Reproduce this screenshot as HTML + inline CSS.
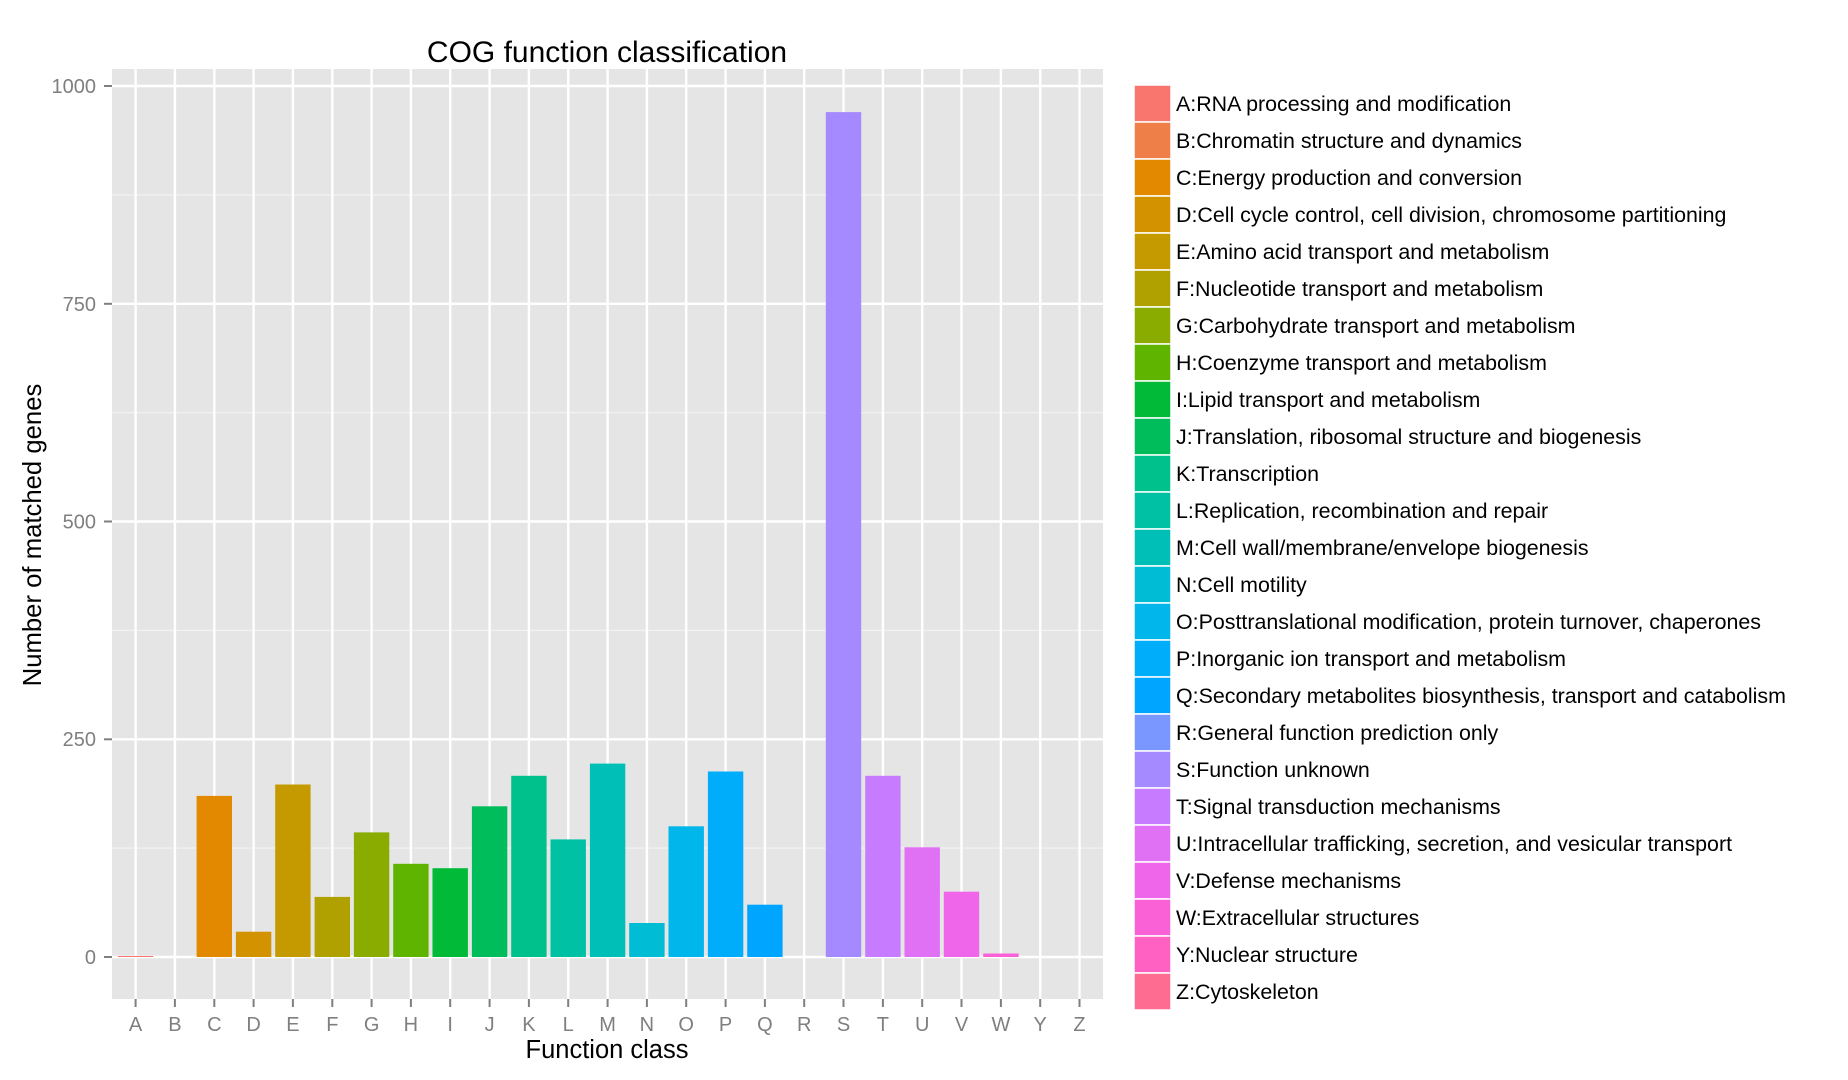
<!DOCTYPE html>
<html><head><meta charset="utf-8"><style>body{margin:0;background:#fff}svg{display:block}text{font-family:"Liberation Sans",Arial,sans-serif}</style></head><body>
<svg width="1848" height="1080" viewBox="0 0 1848 1080" xmlns="http://www.w3.org/2000/svg">
<rect x="0" y="0" width="1848" height="1080" fill="#fff"/>
<rect x="112" y="69" width="991" height="930" fill="#e5e5e5"/>
<g stroke="#f2f2f2" stroke-width="1.2">
<line x1="112" x2="1103" y1="848.1" y2="848.1"/><line x1="112" x2="1103" y1="630.4" y2="630.4"/><line x1="112" x2="1103" y1="412.6" y2="412.6"/><line x1="112" x2="1103" y1="194.9" y2="194.9"/>
</g>
<g stroke="#fff" stroke-width="2.4">
<line x1="112" x2="1103" y1="957" y2="957"/><line x1="112" x2="1103" y1="739.3" y2="739.3"/><line x1="112" x2="1103" y1="521.5" y2="521.5"/><line x1="112" x2="1103" y1="303.8" y2="303.8"/><line x1="112" x2="1103" y1="86" y2="86"/>
<line x1="135.6" x2="135.6" y1="69" y2="999"/><line x1="174.9" x2="174.9" y1="69" y2="999"/><line x1="214.3" x2="214.3" y1="69" y2="999"/><line x1="253.6" x2="253.6" y1="69" y2="999"/><line x1="292.9" x2="292.9" y1="69" y2="999"/><line x1="332.3" x2="332.3" y1="69" y2="999"/><line x1="371.6" x2="371.6" y1="69" y2="999"/><line x1="410.9" x2="410.9" y1="69" y2="999"/><line x1="450.2" x2="450.2" y1="69" y2="999"/><line x1="489.6" x2="489.6" y1="69" y2="999"/><line x1="528.9" x2="528.9" y1="69" y2="999"/><line x1="568.2" x2="568.2" y1="69" y2="999"/><line x1="607.6" x2="607.6" y1="69" y2="999"/><line x1="646.9" x2="646.9" y1="69" y2="999"/><line x1="686.2" x2="686.2" y1="69" y2="999"/><line x1="725.6" x2="725.6" y1="69" y2="999"/><line x1="764.9" x2="764.9" y1="69" y2="999"/><line x1="804.2" x2="804.2" y1="69" y2="999"/><line x1="843.5" x2="843.5" y1="69" y2="999"/><line x1="882.9" x2="882.9" y1="69" y2="999"/><line x1="922.2" x2="922.2" y1="69" y2="999"/><line x1="961.5" x2="961.5" y1="69" y2="999"/><line x1="1000.9" x2="1000.9" y1="69" y2="999"/><line x1="1040.2" x2="1040.2" y1="69" y2="999"/><line x1="1079.5" x2="1079.5" y1="69" y2="999"/>
</g>
<g>
<rect x="117.9" y="956" width="35.4" height="1" fill="#F8766D"/>
<rect x="196.6" y="795.9" width="35.4" height="161.1" fill="#E38900"/>
<rect x="235.9" y="931.7" width="35.4" height="25.3" fill="#D39200"/>
<rect x="275.2" y="784.5" width="35.4" height="172.5" fill="#C49A00"/>
<rect x="314.6" y="896.9" width="35.4" height="60.1" fill="#B0A100"/>
<rect x="353.9" y="832.4" width="35.4" height="124.6" fill="#8AAB00"/>
<rect x="393.2" y="863.8" width="35.4" height="93.2" fill="#5FB400"/>
<rect x="432.5" y="868.2" width="35.4" height="88.8" fill="#00BA38"/>
<rect x="471.9" y="806.3" width="35.4" height="150.7" fill="#00BD5C"/>
<rect x="511.2" y="775.8" width="35.4" height="181.2" fill="#00C08B"/>
<rect x="550.5" y="839.4" width="35.4" height="117.6" fill="#00C1A3"/>
<rect x="589.9" y="763.6" width="35.4" height="193.4" fill="#00BFB6"/>
<rect x="629.2" y="923" width="35.4" height="34" fill="#00BCD5"/>
<rect x="668.5" y="826.3" width="35.4" height="130.7" fill="#00B6EB"/>
<rect x="707.9" y="771.5" width="35.4" height="185.5" fill="#00ADFA"/>
<rect x="747.2" y="904.7" width="35.4" height="52.3" fill="#00A5FF"/>
<rect x="825.8" y="112.1" width="35.4" height="844.9" fill="#A58AFF"/>
<rect x="865.2" y="775.8" width="35.4" height="181.2" fill="#C77CFF"/>
<rect x="904.5" y="847.3" width="35.4" height="109.7" fill="#E071F5"/>
<rect x="943.8" y="891.7" width="35.4" height="65.3" fill="#F066EA"/>
<rect x="983.2" y="953.5" width="35.4" height="3.5" fill="#FB61D7"/>
</g>
<g stroke="#7f7f7f" stroke-width="2">
<line x1="104" x2="112" y1="957" y2="957"/><line x1="104" x2="112" y1="739.3" y2="739.3"/><line x1="104" x2="112" y1="521.5" y2="521.5"/><line x1="104" x2="112" y1="303.8" y2="303.8"/><line x1="104" x2="112" y1="86" y2="86"/>
<line x1="135.6" x2="135.6" y1="999" y2="1007"/><line x1="174.9" x2="174.9" y1="999" y2="1007"/><line x1="214.3" x2="214.3" y1="999" y2="1007"/><line x1="253.6" x2="253.6" y1="999" y2="1007"/><line x1="292.9" x2="292.9" y1="999" y2="1007"/><line x1="332.3" x2="332.3" y1="999" y2="1007"/><line x1="371.6" x2="371.6" y1="999" y2="1007"/><line x1="410.9" x2="410.9" y1="999" y2="1007"/><line x1="450.2" x2="450.2" y1="999" y2="1007"/><line x1="489.6" x2="489.6" y1="999" y2="1007"/><line x1="528.9" x2="528.9" y1="999" y2="1007"/><line x1="568.2" x2="568.2" y1="999" y2="1007"/><line x1="607.6" x2="607.6" y1="999" y2="1007"/><line x1="646.9" x2="646.9" y1="999" y2="1007"/><line x1="686.2" x2="686.2" y1="999" y2="1007"/><line x1="725.6" x2="725.6" y1="999" y2="1007"/><line x1="764.9" x2="764.9" y1="999" y2="1007"/><line x1="804.2" x2="804.2" y1="999" y2="1007"/><line x1="843.5" x2="843.5" y1="999" y2="1007"/><line x1="882.9" x2="882.9" y1="999" y2="1007"/><line x1="922.2" x2="922.2" y1="999" y2="1007"/><line x1="961.5" x2="961.5" y1="999" y2="1007"/><line x1="1000.9" x2="1000.9" y1="999" y2="1007"/><line x1="1040.2" x2="1040.2" y1="999" y2="1007"/><line x1="1079.5" x2="1079.5" y1="999" y2="1007"/>
</g>
<g fill="#7f7f7f" font-size="20" text-anchor="end">
<text x="96" y="964">0</text><text x="96" y="746">250</text><text x="96" y="528.5">500</text><text x="96" y="311">750</text><text x="96" y="93">1000</text>
</g>
<g fill="#7f7f7f" font-size="20" text-anchor="middle">
<text x="135.6" y="1031">A</text><text x="174.9" y="1031">B</text><text x="214.3" y="1031">C</text><text x="253.6" y="1031">D</text><text x="292.9" y="1031">E</text><text x="332.3" y="1031">F</text><text x="371.6" y="1031">G</text><text x="410.9" y="1031">H</text><text x="450.2" y="1031">I</text><text x="489.6" y="1031">J</text><text x="528.9" y="1031">K</text><text x="568.2" y="1031">L</text><text x="607.6" y="1031">M</text><text x="646.9" y="1031">N</text><text x="686.2" y="1031">O</text><text x="725.6" y="1031">P</text><text x="764.9" y="1031">Q</text><text x="804.2" y="1031">R</text><text x="843.5" y="1031">S</text><text x="882.9" y="1031">T</text><text x="922.2" y="1031">U</text><text x="961.5" y="1031">V</text><text x="1000.9" y="1031">W</text><text x="1040.2" y="1031">Y</text><text x="1079.5" y="1031">Z</text>
</g>
<text x="607" y="62" font-size="30" text-anchor="middle" fill="#000">COG function classification</text>
<text x="607" y="1058" font-size="25.5" text-anchor="middle" fill="#000">Function class</text>
<text transform="translate(41,535) rotate(-90)" font-size="25.7" text-anchor="middle" fill="#000">Number of matched genes</text>
<g stroke="#fff" stroke-width="1.5">
<rect x="1134" y="85" width="37" height="37" fill="#F8766D"/>
<rect x="1134" y="122" width="37" height="37" fill="#EF7F49"/>
<rect x="1134" y="159" width="37" height="37" fill="#E38900"/>
<rect x="1134" y="196" width="37" height="37" fill="#D39200"/>
<rect x="1134" y="233" width="37" height="37" fill="#C49A00"/>
<rect x="1134" y="270" width="37" height="37" fill="#B0A100"/>
<rect x="1134" y="307" width="37" height="37" fill="#8AAB00"/>
<rect x="1134" y="344" width="37" height="37" fill="#5FB400"/>
<rect x="1134" y="381" width="37" height="37" fill="#00BA38"/>
<rect x="1134" y="418" width="37" height="37" fill="#00BD5C"/>
<rect x="1134" y="455" width="37" height="37" fill="#00C08B"/>
<rect x="1134" y="492" width="37" height="37" fill="#00C1A3"/>
<rect x="1134" y="529" width="37" height="37" fill="#00BFB6"/>
<rect x="1134" y="566" width="37" height="37" fill="#00BCD5"/>
<rect x="1134" y="603" width="37" height="37" fill="#00B6EB"/>
<rect x="1134" y="640" width="37" height="37" fill="#00ADFA"/>
<rect x="1134" y="677" width="37" height="37" fill="#00A5FF"/>
<rect x="1134" y="714" width="37" height="37" fill="#7997FF"/>
<rect x="1134" y="751" width="37" height="37" fill="#A58AFF"/>
<rect x="1134" y="788" width="37" height="37" fill="#C77CFF"/>
<rect x="1134" y="825" width="37" height="37" fill="#E071F5"/>
<rect x="1134" y="862" width="37" height="37" fill="#F066EA"/>
<rect x="1134" y="899" width="37" height="37" fill="#FB61D7"/>
<rect x="1134" y="936" width="37" height="37" fill="#FF61C3"/>
<rect x="1134" y="973" width="37" height="37" fill="#FF6C91"/>
</g>
<g font-size="21.4" fill="#000">
<text x="1176" y="111">A:RNA processing and modification</text>
<text x="1176" y="148">B:Chromatin structure and dynamics</text>
<text x="1176" y="185">C:Energy production and conversion</text>
<text x="1176" y="222">D:Cell cycle control, cell division, chromosome partitioning</text>
<text x="1176" y="259">E:Amino acid transport and metabolism</text>
<text x="1176" y="296">F:Nucleotide transport and metabolism</text>
<text x="1176" y="333">G:Carbohydrate transport and metabolism</text>
<text x="1176" y="370">H:Coenzyme transport and metabolism</text>
<text x="1176" y="407">I:Lipid transport and metabolism</text>
<text x="1176" y="444">J:Translation, ribosomal structure and biogenesis</text>
<text x="1176" y="481">K:Transcription</text>
<text x="1176" y="518">L:Replication, recombination and repair</text>
<text x="1176" y="555">M:Cell wall/membrane/envelope biogenesis</text>
<text x="1176" y="592">N:Cell motility</text>
<text x="1176" y="629">O:Posttranslational modification, protein turnover, chaperones</text>
<text x="1176" y="666">P:Inorganic ion transport and metabolism</text>
<text x="1176" y="703">Q:Secondary metabolites biosynthesis, transport and catabolism</text>
<text x="1176" y="740">R:General function prediction only</text>
<text x="1176" y="777">S:Function unknown</text>
<text x="1176" y="814">T:Signal transduction mechanisms</text>
<text x="1176" y="851">U:Intracellular trafficking, secretion, and vesicular transport</text>
<text x="1176" y="888">V:Defense mechanisms</text>
<text x="1176" y="925">W:Extracellular structures</text>
<text x="1176" y="962">Y:Nuclear structure</text>
<text x="1176" y="999">Z:Cytoskeleton</text>
</g>
</svg>
</body></html>
